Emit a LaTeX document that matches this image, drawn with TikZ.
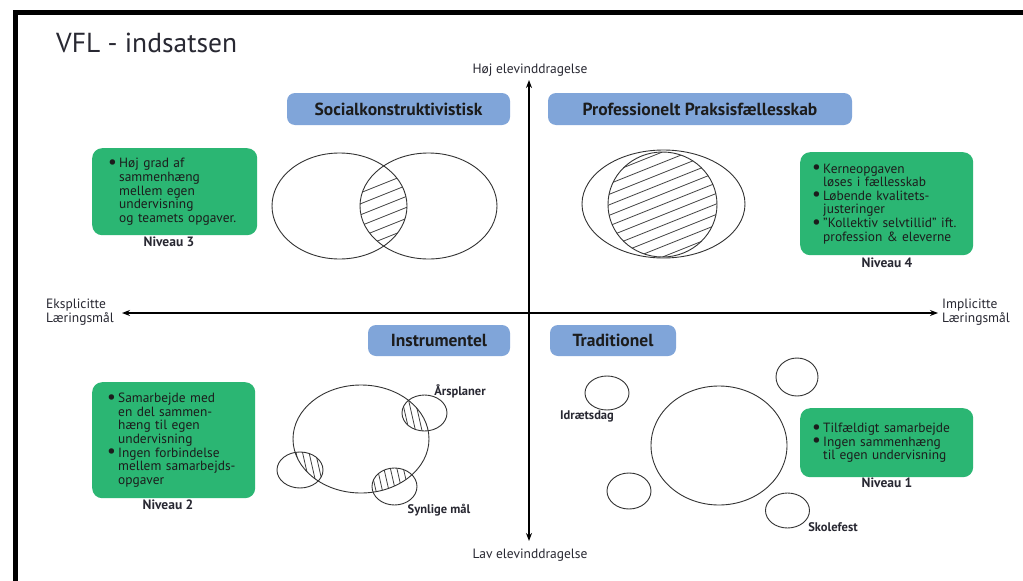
\documentclass[tikz,border=0pt]{standalone}
\usepackage{fontspec}
\setmainfont{PT Sans}
\usetikzlibrary{arrows.meta}
\definecolor{boxblue}{RGB}{128,165,217}
\definecolor{boxgreen}{RGB}{43,182,115}
\definecolor{ink}{RGB}{28,28,28}
\definecolor{lbl}{RGB}{40,40,50}
\newlength\boff
\newcommand\bl{\hspace*{\boff}\makebox[11pt][l]{\raisebox{-0.6pt}{\scalebox{1.45}{\textbullet}}}}
\newcommand\ind{\hspace*{\boff}\hspace*{11pt}}
\begin{document}
\begin{tikzpicture}[x=1pt,y=-1pt,
  heading/.style={fill=boxblue, rounded corners=8pt, text=ink, inner sep=0pt,
    font=\fontsize{17.5}{20}\selectfont\bfseries, minimum height=32pt},
  greenbox/.style={fill=boxgreen, rounded corners=10pt, text=ink, inner sep=0pt,
    align=left, anchor=north west, font=\fontsize{13.4}{13.6}\selectfont},
  niveau/.style={text=lbl, font=\fontsize{13.5}{15}\selectfont\bfseries, inner sep=0pt},
  axislbl/.style={text=lbl, font=\fontsize{13.5}{12}\selectfont, inner sep=0pt, align=left},
  circlbl/.style={text=lbl, font=\fontsize{12.5}{14}\selectfont\bfseries, inner sep=0pt},
  ring/.style={draw=black!80, line width=0.9pt},
  hatch/.style={draw=black!75, line width=0.8pt},
  axis/.style={line width=2pt, {Stealth[length=8pt,width=6pt]}-{Stealth[length=8pt,width=6pt]}}
]
\useasboundingbox (0,0) rectangle (1023,581);
\fill[white] (0,0) rectangle (1023,581);
% frame
\draw[line width=5pt] (15.5,581) -- (15.5,12.5) -- (1023,12.5);
% title
\node[anchor=base west, inner sep=0pt, text=lbl, font=\fontsize{27.5}{30}\selectfont] (title) at (56,52) {VFL - indsatsen};

% axes
\coordinate (top) at (529,80);
\coordinate (bot) at (529,541);
\coordinate (lft) at (122,313);
\coordinate (rgt) at (938,313);
\draw[axis] (top) -- (bot);
\draw[axis] (lft) -- (rgt);
\node[axislbl] (hoj) at (530,70) {Høj elevinddragelse};
\node[axislbl] (lav) at (530,555) {Lav elevinddragelse};
\node[axislbl, anchor=west] (eks) at (46,312) {Eksplicitte\\[0pt]Læringsmål};
\node[axislbl, anchor=west] (imp) at (942,312) {Implicitte\\[0pt]Læringsmål};

% headings
\node[heading, minimum width=223pt] (soc) at (398.5,109) {Socialkonstruktivistisk};
\node[heading, minimum width=304pt] (pro) at (700,109) {Professionelt Praksisfællesskab};
\node[heading, minimum width=142pt, minimum height=31pt] (ins) at (439,340.5) {Instrumentel};
\node[heading, minimum width=126pt, minimum height=31pt] (tra) at (613,340.5) {Traditionel};

% green boxes
\node[greenbox, text width=165pt, minimum height=87pt] (n3) at (92,148)
 {\setlength\boff{16pt}\bl Høj grad af\\\ind sammenhæng\\\ind mellem egen\\\ind undervisning\\\ind og teamets opgaver.};
\node[niveau] (n3l) at (169,242) {Niveau 3};

\node[greenbox, text width=173pt, minimum height=103pt] (n4) at (800,152)
 {\setlength\boff{12pt}\bl Kerneopgaven\\\ind løses i fællesskab\\\bl Løbende kvalitets-\\\ind justeringer\\\bl ”Kollektiv selvtillid” ift.\\\ind profession \& eleverne};
\node[niveau] (n4l) at (887,263) {Niveau 4};

\node[greenbox, text width=163pt, minimum height=116pt] (n2) at (92,382)
 {\setlength\boff{15pt}\bl Samarbejde med\\\ind en del sammen-\\\ind hæng til egen\\\ind undervisning\\\bl Ingen forbindelse\\\ind mellem samarbejds-\\\ind opgaver};
\node[niveau] (n2l) at (168,505) {Niveau 2};

\node[greenbox, text width=173pt, minimum height=69pt] (n1) at (800,408)
 {\setlength\boff{12pt}\bl Tilfældigt samarbejde\\\bl Ingen sammenhæng\\\ind til egen undervisning};
\node[niveau] (n1l) at (887,483) {Niveau 1};

% Venn 1 (socialkonstruktivistisk)
\begin{scope}
 \clip (339.5,206) ellipse [x radius=67.5, y radius=53];
 \clip (428.5,206) ellipse [x radius=68.5, y radius=53];
 \foreach \k in {-3,...,3} \draw[hatch] (330,206+\k*11+32) -- (440,206+\k*11-12);
\end{scope}
\draw[ring] (339.5,206) ellipse [x radius=67.5, y radius=53];
\draw[ring] (428.5,206) ellipse [x radius=68.5, y radius=53];

% Venn 2 (professionelt)
\begin{scope}
 \clip (662.5,204.5) ellipse [x radius=54.5, y radius=52.5];
 \foreach \k in {-5,...,5} \draw[hatch] (600,204.5+\k*10.5+25) -- (725,204.5+\k*10.5-25);
\end{scope}
\draw[ring] (663.5,204) ellipse [x radius=81.5, y radius=54];
\draw[ring] (662.5,204.5) ellipse [x radius=54.5, y radius=52.5];

% Instrumentel
\foreach \cx/\cy/\rx/\ry in {424.5/413/22.5/18, 300/470/23/18, 394.5/486.5/22.5/18.5}{
 \begin{scope}
  \clip (361,439) ellipse [x radius=68, y radius=54];
  \clip (\cx,\cy) ellipse [x radius=\rx, y radius=\ry];
  \foreach \k in {-5,...,5} \draw[hatch] (\cx+\k*6.5-5,\cy-22) -- (\cx+\k*6.5+5,\cy+22);
 \end{scope}
 \draw[ring] (\cx,\cy) ellipse [x radius=\rx, y radius=\ry];
}
\draw[ring] (361,439) ellipse [x radius=68, y radius=54];
\node[circlbl] (aars) at (460,391) {Årsplaner};
\node[circlbl] (synl) at (439,510) {Synlige mål};

% Traditionel
\draw[ring] (719,445.5) ellipse [x radius=68, y radius=59.5];
\draw[ring] (607,393) ellipse [x radius=22, y radius=17];
\draw[ring] (797,377) ellipse [x radius=21, y radius=19];
\draw[ring] (629,491) ellipse [x radius=22, y radius=18];
\draw[ring] (787.5,510.5) ellipse [x radius=22, y radius=17.5];
\node[circlbl] (idr) at (587,416) {Idrætsdag};
\node[circlbl] (skol) at (833,527) {Skolefest};
\end{tikzpicture}
\end{document}
